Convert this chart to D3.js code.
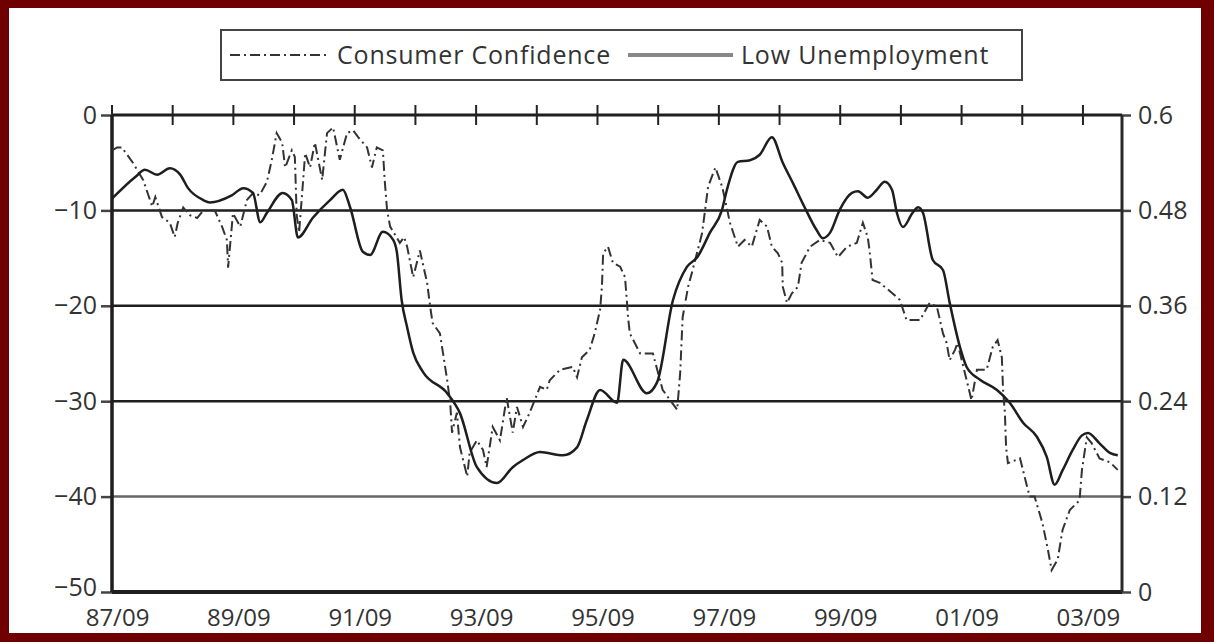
<!DOCTYPE html>
<html>
<head>
<meta charset="utf-8">
<script src="https://cdn.jsdelivr.net/npm/d3@7"></script>
<style>
	html, body { margin: 0; padding: 0; background: #700000; }
	svg { display: block; }
	text { font-family: "Open Sans", "DejaVu Sans", sans-serif; fill: #333; }
</style>
</head>
<body>
<script>
// time is in decimal years (87/09 = 1987 + 8/12)
var ccTime = [1987.67, 1987.75, 1987.83, 1988.01, 1988.18, 1988.33, 1988.38, 1988.49, 1988.62, 1988.70,
	1988.75, 1988.84, 1988.95, 1989.07, 1989.17, 1989.36, 1989.48, 1989.56, 1989.58, 1989.66,
	1989.78, 1989.89, 1989.99, 1990.10, 1990.22, 1990.30, 1990.38, 1990.47, 1990.52, 1990.63,
	1990.68, 1990.71, 1990.75, 1990.80, 1990.85, 1990.93, 1991.01, 1991.09, 1991.13, 1991.21,
	1991.31, 1991.42, 1991.54, 1991.64, 1991.72, 1991.87, 1991.95, 1992.03, 1992.13, 1992.16,
	1992.20, 1992.25, 1992.41, 1992.48, 1992.53, 1992.63, 1992.74, 1992.86, 1992.91, 1992.95,
	1993.07, 1993.12, 1993.19, 1993.24, 1993.27, 1993.35, 1993.40, 1993.52, 1993.56, 1993.68,
	1993.78, 1993.84, 1993.94, 1994.06, 1994.17, 1994.27, 1994.34, 1994.44, 1994.55, 1994.72,
	1994.83, 1994.88, 1995.05, 1995.26, 1995.33, 1995.41, 1995.54, 1995.62, 1995.71, 1995.74,
	1995.76, 1995.84, 1995.92, 1996.04, 1996.12, 1996.15, 1996.17, 1996.20, 1996.37, 1996.58,
	1996.74, 1996.98, 1997.03, 1997.07, 1997.16, 1997.22, 1997.39, 1997.49, 1997.61, 1997.72,
	1997.77, 1997.85, 1997.98, 1998.09, 1998.21, 1998.34, 1998.46, 1998.54, 1998.64, 1998.71,
	1998.72, 1998.79, 1998.87, 1998.97, 1999.03, 1999.17, 1999.33, 1999.50, 1999.63, 1999.78,
	1999.94, 2000.04, 2000.12, 2000.15, 2000.20, 2000.32, 2000.53, 2000.65, 2000.76, 2000.98,
	2001.14, 2001.26, 2001.36, 2001.42, 2001.47, 2001.56, 2001.60, 2001.75, 2001.83, 2001.92,
	2002.08, 2002.18, 2002.26, 2002.33, 2002.35, 2002.38, 2002.40, 2002.43, 2002.63, 2002.74,
	2002.79, 2002.87, 2003.00, 2003.09, 2003.15, 2003.25, 2003.33, 2003.45, 2003.61, 2003.65,
	2003.73, 2003.81, 2003.94, 2004.11, 2004.24];

var ccValue = [-3.7, -3.4, -3.4, -5.0, -6.8, -9.6, -8.6, -10.7, -11.3, -12.8,
	-11.3, -9.7, -10.5, -10.8, -10.0, -10.0, -11.7, -13.1, -16.0, -10.3,
	-11.7, -8.9, -8.2, -8.4, -7.0, -4.7, -1.9, -2.9, -5.5, -3.7,
	-4.4, -10.5, -12.3, -8.2, -4.0, -5.5, -2.9, -5.5, -6.8, -1.9,
	-1.3, -4.7, -1.9, -1.6, -2.3, -3.4, -5.5, -3.4, -3.7, -6.8,
	-10.0, -11.7, -13.4, -12.8, -13.8, -17.0, -14.2, -17.6, -20.1, -21.8,
	-22.9, -24.9, -27.8, -30.2, -33.3, -31.2, -34.8, -37.9, -35.4, -34.1,
	-35.1, -36.9, -32.7, -34.1, -29.6, -33.3, -30.6, -32.7, -31.2, -28.5,
	-28.8, -27.8, -26.7, -26.4, -27.5, -25.4, -24.6, -22.9, -20.4, -18.0,
	-14.5, -13.8, -15.5, -15.9, -17.0, -19.4, -21.2, -22.9, -25.0, -25.0,
	-28.8, -30.9, -27.0, -21.2, -18.0, -16.6, -12.4, -7.5, -5.5, -7.5,
	-8.9, -11.3, -13.8, -13.1, -13.8, -11.0, -11.7, -13.8, -14.5, -15.5,
	-18.0, -19.7, -18.7, -18.0, -15.5, -13.8, -13.1, -13.4, -14.9, -13.8,
	-13.4, -11.3, -12.8, -14.2, -17.3, -17.6, -18.7, -19.4, -21.5, -21.5,
	-19.7, -20.1, -22.9, -23.9, -25.7, -24.6, -23.9, -27.8, -29.9, -26.7,
	-26.7, -24.3, -23.6, -25.4, -28.8, -31.2, -34.8, -36.5, -36.0, -38.8,
	-40.0, -40.0, -42.8, -45.6, -47.7, -46.6, -43.5, -41.4, -40.4, -37.2,
	-33.8, -34.4, -36.0, -36.4, -37.2];

var luTime = [1987.67, 1988.05, 1988.21, 1988.41, 1988.62, 1988.79, 1988.92, 1989.17, 1989.28, 1989.64,
	1989.83, 1989.99, 1990.11, 1990.22, 1990.48, 1990.63, 1990.73, 1990.98, 1991.26, 1991.47,
	1991.59, 1991.80, 1991.92, 1992.13, 1992.30, 1992.36, 1992.44, 1992.53, 1992.63, 1992.79,
	1993.19, 1993.40, 1993.68, 1994.01, 1994.27, 1994.44, 1994.72, 1995.10, 1995.33, 1995.49,
	1995.71, 1995.99, 1996.09, 1996.48, 1996.65, 1996.91, 1997.14, 1997.31, 1997.52, 1997.72,
	1997.80, 1997.98, 1998.18, 1998.34, 1998.54, 1998.72, 1998.89, 1999.08, 1999.28, 1999.38,
	1999.50, 1999.66, 1999.86, 1999.96, 2000.12, 2000.27, 2000.40, 2000.52, 2000.60, 2000.70,
	2000.86, 2000.95, 2001.03, 2001.19, 2001.36, 2001.47, 2001.64, 2001.75, 2001.97, 2002.25,
	2002.46, 2002.68, 2002.91, 2003.07, 2003.20, 2003.33, 2003.50, 2003.65, 2003.75, 2003.94,
	2004.11, 2004.24];

var luValue = [0.495, 0.522, 0.531, 0.525, 0.533, 0.525, 0.508, 0.493, 0.490, 0.499,
	0.508, 0.502, 0.465, 0.477, 0.502, 0.493, 0.446, 0.471, 0.493, 0.506,
	0.484, 0.428, 0.424, 0.453, 0.443, 0.428, 0.367, 0.333, 0.301, 0.277,
	0.250, 0.225, 0.157, 0.137, 0.157, 0.166, 0.176, 0.172, 0.182, 0.216,
	0.254, 0.238, 0.292, 0.250, 0.264, 0.367, 0.409, 0.421, 0.452, 0.481,
	0.506, 0.541, 0.543, 0.550, 0.572, 0.540, 0.514, 0.484, 0.455, 0.445,
	0.452, 0.481, 0.502, 0.504, 0.496, 0.506, 0.516, 0.506, 0.477, 0.459,
	0.477, 0.484, 0.477, 0.418, 0.405, 0.364, 0.308, 0.283, 0.267, 0.254,
	0.238, 0.213, 0.195, 0.170, 0.135, 0.153, 0.179, 0.197, 0.200, 0.187,
	0.175, 0.172];

var xTickLabels = ["87/09", "89/09", "91/09", "93/09", "95/09", "97/09", "99/09", "01/09", "03/09"];
var leftTicks = [0, -10, -20, -30, -40, -50];
var rightTicks = [0.6, 0.48, 0.36, 0.24, 0.12, 0];
var seriesNames = ["Consumer Confidence", "Low Unemployment"];

var W = 1214, H = 642;
var margin = {top: 115, right: 92, bottom: 50, left: 112};
var plotW = W - margin.left - margin.right,
	plotH = H - margin.top - margin.bottom;

function labelToYear(s) {
	var yy = +s.split('/')[0], mm = +s.split('/')[1];
	return (yy < 50 ? 2000 + yy : 1900 + yy) + (mm - 1) / 12;
}
var xTicks = xTickLabels.map(labelToYear);
var start = xTicks[0];
var yearTicks = d3.range(0, 17).map(function(i) { return start + i; });

var x = d3.scaleLinear().domain([start, 2004.31]).range([0, plotW]);
var yL = d3.scaleLinear().domain([-50, 0]).range([plotH, 0]);
var yR = d3.scaleLinear().domain([0, 0.6]).range([plotH, 0]);

var svg = d3.select('body').append('svg')
	.attr('width', W)
	.attr('height', H);

// white page inside the dark red frame
svg.append('rect')
	.attr('x', 9).attr('y', 8)
	.attr('width', 1192).attr('height', 625)
	.style('fill', '#fff');

var g = svg.append('g')
	.attr('transform', 'translate(' + margin.left + ',' + margin.top + ')');

// horizontal grid lines
g.selectAll('.grid')
	.data(leftTicks)
.enter().append('line')
	.attr('class', 'grid')
	.attr('x1', 0).attr('x2', plotW)
	.attr('y1', function(d) { return yL(d); })
	.attr('y2', function(d) { return yL(d); })
	.style('stroke', function(d) { return d == -40 ? '#666' : '#1e1e1e'; })
	.style('stroke-width', function(d) {
		if (d == -50) return 4;
		if (d == 0) return 3;
		return 2.5;
	});

// yearly ticks on the top border
g.selectAll('.ytick')
	.data(yearTicks)
.enter().append('line')
	.attr('class', 'ytick')
	.attr('x1', function(d) { return x(d); })
	.attr('x2', function(d) { return x(d); })
	.attr('y1', -10).attr('y2', 10)
	.style('stroke', '#222')
	.style('stroke-width', 2);

// left axis
var leftAxis = d3.axisLeft(yL)
	.tickValues(leftTicks)
	.tickSize(11)
	.tickPadding(4)
	.tickFormat(function(d) { return d < 0 ? '\u2212' + (-d) : d; });

var gl = g.append('g').call(leftAxis);
gl.select('.domain').remove();
gl.selectAll('line').style('stroke', '#444').style('stroke-width', 2.5);
gl.selectAll('text').style('font-size', '25px').style('fill', '#333');
// lift the lowest label a little so it clears the date below
gl.selectAll('text').filter(function(d) { return d == -50; }).attr('dy', '0.15em');

// right axis
var rightAxis = d3.axisRight(yR)
	.tickValues(rightTicks)
	.tickSize(9)
	.tickPadding(7)
	.tickFormat(function(d) { return d; });

var gr = g.append('g')
	.attr('transform', 'translate(' + plotW + ',0)')
	.call(rightAxis);
gr.select('.domain').remove();
gr.selectAll('line').style('stroke', '#444').style('stroke-width', 2.5);
gr.selectAll('text').style('font-size', '25px').style('fill', '#333');

// bottom labels
var bottomAxis = d3.axisBottom(x)
	.tickValues(xTicks)
	.tickSize(0)
	.tickPadding(17)
	.tickFormat(function(d, i) { return xTickLabels[i]; });

var gb = g.append('g')
	.attr('transform', 'translate(0,' + plotH + ')')
	.call(bottomAxis);
gb.select('.domain').remove();
gb.selectAll('text')
	.attr('dx', 5)
	.style('font-size', '24px')
	.style('fill', '#333');

// vertical frame lines
g.append('line')
	.attr('x1', 0).attr('x2', 0)
	.attr('y1', 0).attr('y2', plotH)
	.style('stroke', '#1e1e1e').style('stroke-width', 3.5);
g.append('line')
	.attr('x1', plotW).attr('x2', plotW)
	.attr('y1', 0).attr('y2', plotH)
	.style('stroke', '#2a2a2a').style('stroke-width', 3);

// the two series
var ccData = ccTime.map(function(t, i) { return [t, ccValue[i]]; });
var luData = luTime.map(function(t, i) { return [t, luValue[i]]; });

var ccLine = d3.line()
	.x(function(d) { return x(d[0]); })
	.y(function(d) { return yL(d[1]); });

var luLine = d3.line()
	.x(function(d) { return x(d[0]); })
	.y(function(d) { return yR(d[1]); })
	.curve(d3.curveMonotoneX);

g.append('path')
	.datum(ccData)
	.attr('d', ccLine)
	.style('fill', 'none')
	.style('stroke', '#333')
	.style('stroke-width', 2)
	.style('stroke-dasharray', '10,4,2,4');

g.append('path')
	.datum(luData)
	.attr('d', luLine)
	.style('fill', 'none')
	.style('stroke', '#1e1e1e')
	.style('stroke-width', 2.5);

// legend
var legend = svg.append('g');
legend.append('rect')
	.attr('x', 221).attr('y', 30)
	.attr('width', 801).attr('height', 50)
	.style('fill', '#fff')
	.style('stroke', '#444')
	.style('stroke-width', 2);

legend.append('line')
	.attr('x1', 230).attr('x2', 328)
	.attr('y1', 55).attr('y2', 55)
	.style('stroke', '#333')
	.style('stroke-width', 2)
	.style('stroke-dasharray', '10,4,2,4');
legend.append('text')
	.attr('x', 337).attr('y', 55)
	.attr('dy', '0.35em')
	.style('font-size', '25px')
	.style('letter-spacing', '0.8px')
	.text(seriesNames[0]);

legend.append('line')
	.attr('x1', 628).attr('x2', 733)
	.attr('y1', 55).attr('y2', 55)
	.style('stroke', '#888')
	.style('stroke-width', 4);
legend.append('text')
	.attr('x', 741).attr('y', 55)
	.attr('dy', '0.35em')
	.style('font-size', '25px')
	.style('letter-spacing', '0.8px')
	.text(seriesNames[1]);
</script>
</body>
</html>
